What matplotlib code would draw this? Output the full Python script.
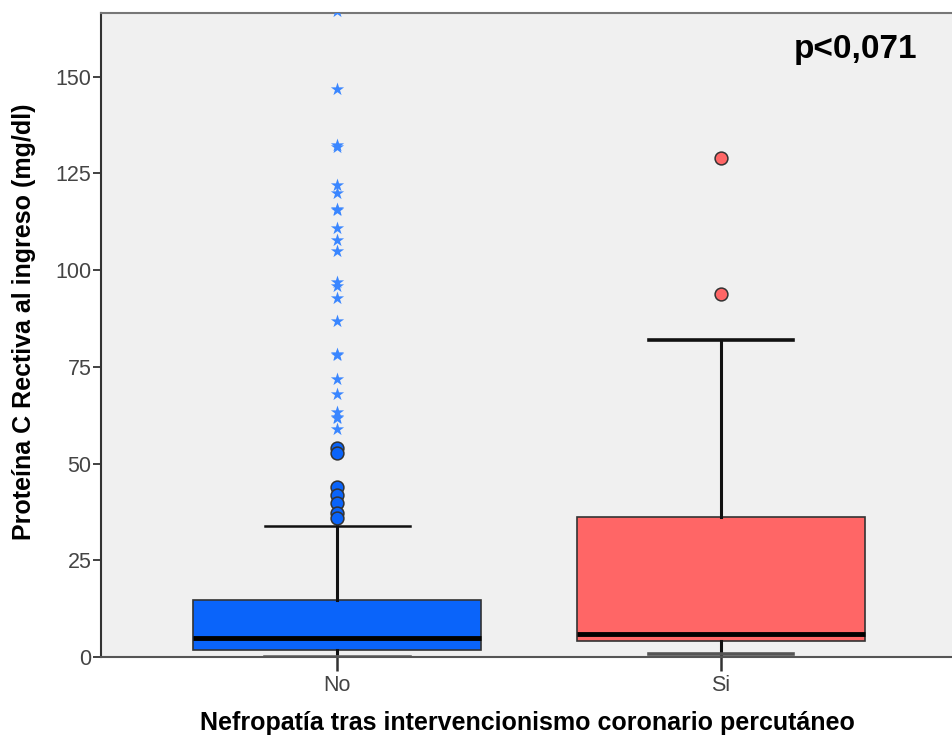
import matplotlib
matplotlib.use("Agg")
import matplotlib.pyplot as plt

# ---- data ----
categories = ["No", "Si"]
q1 = [1.7, 4.1]
medians = [4.9, 5.85]
q3 = [14.8, 36.2]
whisker_low = [0.0, 0.9]
whisker_high = [33.8, 81.8]

# outliers (circles) and extreme values (stars)
no_outliers = [53.9, 52.6, 44.0, 41.9, 39.7, 37.1, 35.8]
no_extremes = [167.0, 146.8, 132.2, 131.9, 122.0, 120.0, 115.9, 115.6, 110.8,
               107.8, 105.0, 96.8, 95.9, 92.9, 86.7, 78.3, 78.0, 71.8, 68.0,
               63.4, 62.1, 61.8, 58.8]
si_outliers = [128.9, 93.8]
si_extremes = []

box_colors = ["#0A64FA", "#FF6666"]
star_color = "#3A86FF"

y_ticks = [0, 25, 50, 75, 100, 125, 150]

plt.rcParams['font.family'] = ['Liberation Sans', 'DejaVu Sans']

fig = plt.figure(figsize=(9.53, 7.40), dpi=100)
ax = fig.add_axes([101 / 953, 1 - 657 / 740, 1 - 101 / 953, (657 - 12.7) / 740])
ax.set_facecolor("#F0F0F0")

positions = list(range(len(categories)))
stats = []
for i, c in enumerate(categories):
    stats.append(dict(label=c, q1=q1[i], med=medians[i], q3=q3[i],
                      whislo=whisker_low[i], whishi=whisker_high[i], fliers=[]))

bp = ax.bxp(stats, positions=positions, widths=0.75, patch_artist=True,
            showfliers=False,
            boxprops=dict(edgecolor="#333333", linewidth=1.2),
            medianprops=dict(color="black", linewidth=3.5),
            whiskerprops=dict(color="#111111", linewidth=2.2),
            capprops=dict(color="#111111", linewidth=2.6),
            capwidths=0.377)
for patch, col in zip(bp["boxes"], box_colors):
    patch.set_facecolor(col)
for med in bp["medians"]:
    med.set_solid_capstyle("butt")
# lower caps look grey, upper cap of "No" is thinner
bp["caps"][0].set_color("#666666")
bp["caps"][2].set_color("#555555")
bp["caps"][1].set_linewidth(1.8)

outs = [no_outliers, si_outliers]
exts = [no_extremes, si_extremes]
for i in positions:
    if outs[i]:
        ax.scatter([i] * len(outs[i]), outs[i], s=85, color=box_colors[i],
                   edgecolors="#333333", linewidths=1.1, zorder=4)
    if exts[i]:
        ax.scatter([i] * len(exts[i]), exts[i], s=100, marker="*",
                   color=star_color, linewidths=0, zorder=4)

ax.set_xlim(-0.615, 1.604)
ax.set_ylim(0, 166.5)
ax.set_yticks(y_ticks)
ax.set_xticks(positions)
ax.set_xticklabels(categories)

ax.spines["right"].set_visible(False)
ax.spines["top"].set_color("#777777")
ax.spines["top"].set_linewidth(1.5)
ax.spines["left"].set_color("#333333")
ax.spines["left"].set_linewidth(1.5)
ax.spines["bottom"].set_color("#555555")
ax.spines["bottom"].set_linewidth(1.5)

ax.tick_params(axis="y", length=6, width=1.3, color="#333333",
               labelsize=15.5, labelcolor="#444444", pad=1)
ax.tick_params(axis="x", length=10, width=1.8, color="#333333",
               labelsize=15.5, labelcolor="#444444", pad=3)

ax.set_ylabel("Proteína C Rectiva al ingreso (mg/dl)", fontsize=18,
              fontweight="bold")
ax.yaxis.set_label_coords(-0.0765, 0.52)
ax.set_xlabel("Nefropatía tras intervencionismo coronario percutáneo",
              fontsize=18, fontweight="bold")
ax.xaxis.set_label_coords(0.5, -0.084)

ax.text(0.958, 0.9425, "p<0,071", transform=ax.transAxes, ha="right", va="center",
        fontsize=24, fontweight="bold", color="black")

fig.savefig("out.png", dpi=100)
